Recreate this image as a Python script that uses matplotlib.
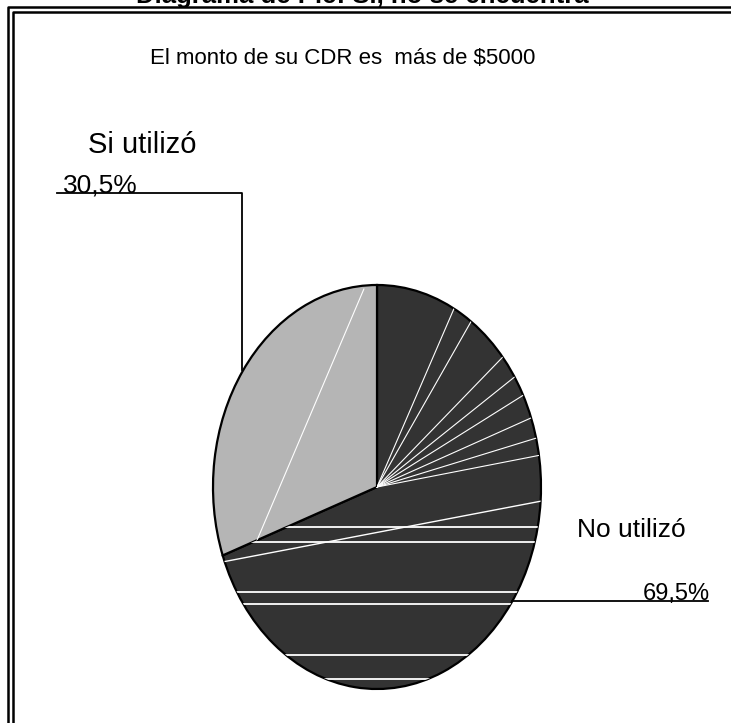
import numpy as np
import matplotlib.pyplot as plt
from matplotlib.lines import Line2D

plt.rcParams['font.family'] = ['Liberation Sans', 'DejaVu Sans']

# data
labels = ['No utilizó', 'Si utilizó']
values = [69.5, 30.5]
pct_labels = ['69,5%', '30,5%']
colors = ['#333333', '#b5b5b5']
title = 'Diagrama de Pie: Si, no se encuentra'
subtitle = 'El monto de su CDR es  más de $5000'

W, H = 731, 723
fig = plt.figure(figsize=(W / 100, H / 100), dpi=100)


def fx(px):
    return px / W


def fy(py):
    return 1 - py / H


# pie (ellipse: stretched axes)
cx, cy, rx, ry = 377, 487, 164, 202
ax = fig.add_axes([fx(cx - rx), fy(cy + ry), 2 * rx / W, 2 * ry / H])
wedges, _ = ax.pie(values, colors=colors, startangle=90, counterclock=False,
                   wedgeprops=dict(edgecolor='black', linewidth=1.6))
ax.set_aspect('auto')
ax.set_xlim(-1, 1)
ax.set_ylim(-1, 1)
ax.axis('off')

# white streaks in the dark wedge, like the original rendering
dark = wedges[0]
for a in [62, 55, 40, 33, 27, 20, 14, 9]:
    t = np.deg2rad(a)
    ln, = ax.plot([0, np.cos(t)], [0, np.sin(t)], color='white', lw=0.8)
    ln.set_clip_path(dark)
ln, = ax.plot([-1, 1], [-0.38, -0.07], color='white', lw=1.0)
ln.set_clip_path(dark)
for yy in [-0.2, -0.27, -0.52, -0.58, -0.83, -0.95]:
    ln, = ax.plot([-1, 1], [yy, yy], color='white', lw=1.3)
    ln.set_clip_path(dark)
# thin white streak in the light wedge
ln, = ax.plot([-0.95, -0.08], [-0.68, 0.98], color='white', lw=0.8)
ln.set_clip_path(wedges[1])

# overlay for text, leaders and frame
ov = fig.add_axes([0, 0, 1, 1])
ov.set_xlim(0, 1)
ov.set_ylim(0, 1)
ov.axis('off')

ov.text(fx(362), fy(3), title, ha='center', va='baseline',
        fontsize=18.5, fontweight='bold')
ov.text(fx(150), fy(64), subtitle, ha='left', va='baseline', fontsize=16)

# frame: double line on the top and left
for off in [8, 13]:
    ov.add_line(Line2D([fx(off), fx(off), 1], [0, fy(off - 1), fy(off - 1)],
                       color='black', lw=1.8))

# leader lines
ov.add_line(Line2D([fx(57), fx(242), fx(242)], [fy(193), fy(193), fy(370)],
                   color='black', lw=1.3))
ov.add_line(Line2D([fx(512), fx(708)], [fy(601), fy(601)],
                   color='black', lw=1.3))

ov.text(fx(88), fy(153), labels[1], ha='left', va='baseline', fontsize=21)
ov.text(fx(63), fy(192), pct_labels[1], ha='left', va='baseline', fontsize=19)
ov.text(fx(577), fy(537), labels[0], ha='left', va='baseline', fontsize=19)
ov.text(fx(643), fy(600), pct_labels[0], ha='left', va='baseline', fontsize=17)

fig.savefig('out.png', dpi=100)
